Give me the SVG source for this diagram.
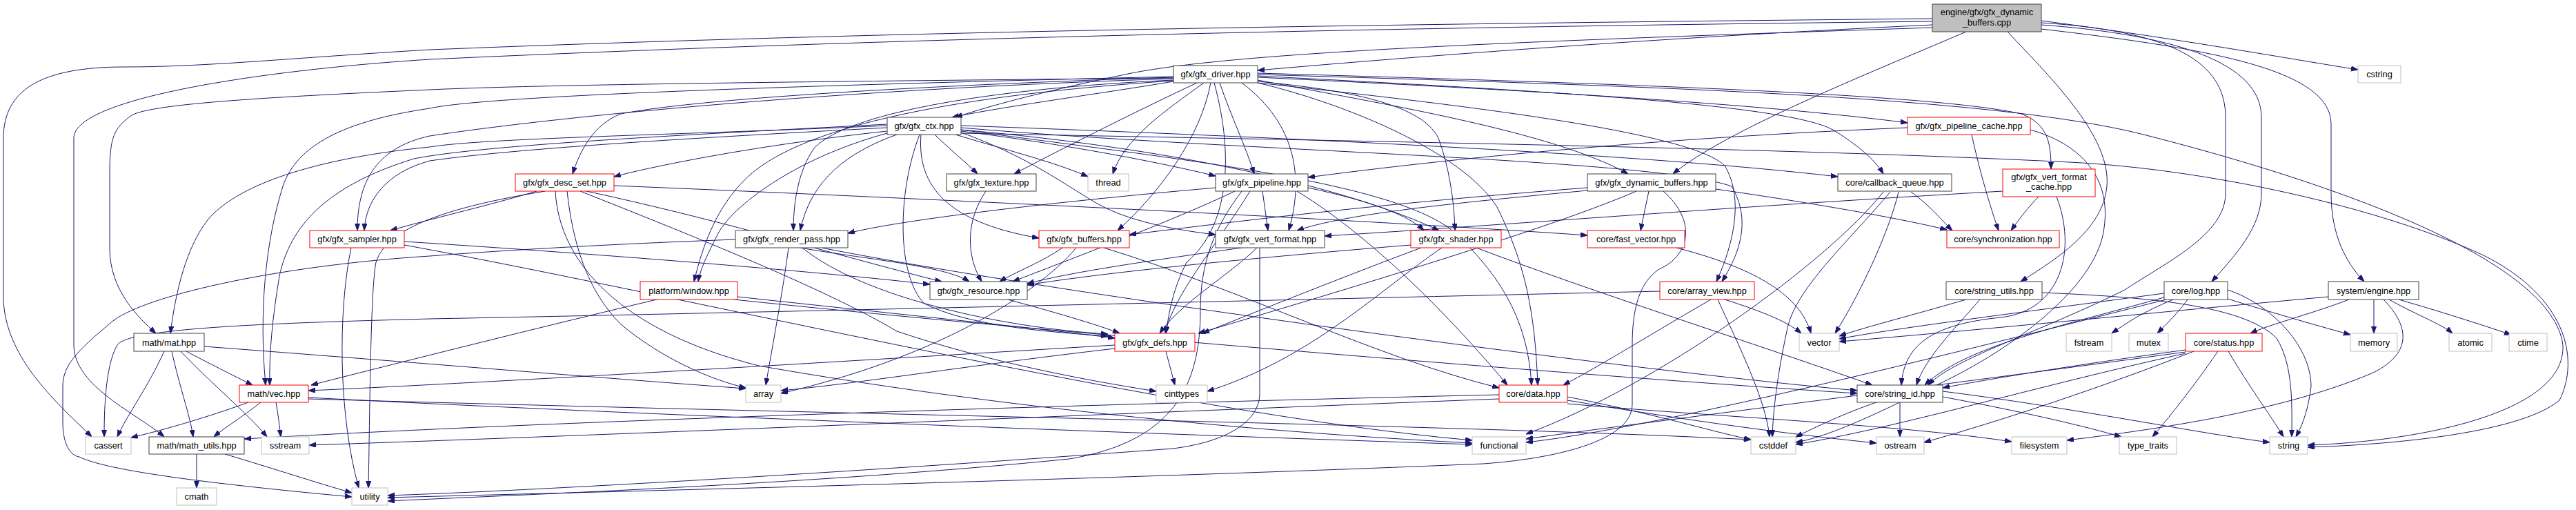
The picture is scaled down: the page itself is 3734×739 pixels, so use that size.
<svg xmlns="http://www.w3.org/2000/svg" width="3734" height="739" viewBox="0 0 3734 739">
<style>
.e path{fill:none;stroke:#191970;stroke-width:1;marker-end:url(#ah)}
.n rect{fill:#fff;stroke:#404040;stroke-width:1}
.r rect{fill:#fff;stroke:#ff0000;stroke-width:1}
.g rect{fill:#fff;stroke:#bfbfbf;stroke-width:1}
.rt rect{fill:#bfbfbf;stroke:#404040;stroke-width:1}
text{font-family:"Liberation Sans",Arial,sans-serif;font-size:12.8px;text-anchor:middle;fill:#000}
</style>
<defs>
<marker id="ah" markerWidth="10" markerHeight="8" refX="10" refY="3.5" orient="auto" markerUnits="userSpaceOnUse"><path d="M0,0 L10,3.5 L0,7 z" fill="#191970" stroke="#191970"/></marker>
</defs>
<rect width="3734" height="739" fill="#fff"/>
<g id="edges" class="e">
<path d="M2801,36 C2400,55 2050,82 1823,102"/>
<path d="M2801,40 C2200,60 1800,75 1640,106 C1500,135 1430,155 1385,170"/>
<path d="M2850,46 C2700,110 2500,190 2425,252"/>
<path d="M2959,30 C3150,55 3300,82 3418,101"/>
<path d="M2959,36 C3150,50 3278,90 3278,170 L3278,280 C3278,330 3240,370 3206,408"/>
<path d="M2959,42 C3200,70 3379,100 3379,180 L3379,280 C3379,340 3400,380 3427,408"/>
<path d="M2910,46 C2980,120 3060,200 3054,270 C3048,330 2990,370 2929,408"/>
<path d="M2959,33 C3150,45 3226,90 3226,170 L3226,280 C3226,340 3140,380 3080,420 C2960,480 2830,520 2795,558"/>
<path d="M2801,27 C2000,35 1300,45 623,72 C420,84 300,97 180,97 C60,97 5,130 5,200 L5,430 C5,520 90,590 133,633"/>
<path d="M2801,31 C2000,40 1300,55 623,86 C400,100 107,140 107,200 L107,500 C107,560 200,600 238,633"/>
<path d="M1701,118 C1600,135 1450,155 1380,170"/>
<path d="M1735,120 C1650,160 1550,210 1470,252"/>
<path d="M1745,120 C1690,160 1630,200 1613,252"/>
<path d="M1768,120 C1785,170 1805,210 1818,252"/>
<path d="M1823,116 C2000,150 2250,190 2360,252"/>
<path d="M1823,112 C2200,130 2550,150 2765,178"/>
<path d="M1823,110 C2200,130 2600,150 2660,190 C2700,215 2720,235 2730,252"/>
<path d="M1823,106 C2300,120 2800,135 2930,165 C2970,180 2973,210 2973,245"/>
<path d="M1701,112 C1300,125 1000,145 900,165 C860,180 840,220 830,252"/>
<path d="M1701,114 C1200,130 800,170 623,197 C540,215 518,270 518,334"/>
<path d="M1701,116 C1400,130 1220,170 1180,215 C1155,250 1150,300 1150,334"/>
<path d="M1755,120 C1740,200 1680,280 1620,334"/>
<path d="M1800,120 C1880,180 1890,260 1868,334"/>
<path d="M1823,118 C1950,130 2060,150 2085,200 C2100,240 2108,290 2109,334"/>
<path d="M1701,117 C1350,140 1150,190 1080,260 C1040,300 1020,350 1006,408"/>
<path d="M1823,120 C2100,150 2450,190 2500,240 C2530,290 2510,360 2488,408"/>
<path d="M1701,113 C1200,118 800,122 623,130 C400,140 220,150 191,167 C165,185 159,200 159,250 L159,360 C159,420 200,460 226,483"/>
<path d="M1760,120 C1790,230 1780,330 1720,380 C1700,420 1695,450 1690,483"/>
<path d="M1701,111 C1100,125 700,140 623,157 C500,175 430,210 410,270 C385,350 375,450 385,558"/>
<path d="M1823,120 C1950,150 2120,220 2170,300 C2210,380 2225,450 2229,558"/>
<path d="M1823,108 C2400,125 2900,140 3115,197 C3400,270 3700,380 3715,500 C3720,600 3500,640 3345,645"/>
<path d="M1355,195 C1375,215 1400,235 1417,252"/>
<path d="M1385,195 C1450,215 1530,235 1577,256"/>
<path d="M1393,190 C1550,210 1680,235 1762,255"/>
<path d="M1393,182 C1900,200 2400,225 2664,256"/>
<path d="M1286,190 C1100,210 950,240 890,256"/>
<path d="M1286,185 C1000,200 750,215 623,233 C560,250 530,290 528,334"/>
<path d="M1300,195 C1230,220 1175,260 1160,334"/>
<path d="M1335,195 C1330,260 1360,320 1506,345"/>
<path d="M1393,192 C1500,230 1560,280 1600,300 C1650,325 1720,335 1762,340"/>
<path d="M1393,188 C1700,215 1950,270 2086,334"/>
<path d="M1286,193 C1150,230 1060,300 1040,340 C1025,370 1015,390 1012,408"/>
<path d="M1393,185 C1800,220 2400,230 2510,270 C2540,320 2520,370 2496,408"/>
<path d="M1286,182 C1000,195 700,200 623,213 C450,230 340,270 300,320 C270,360 255,420 247,483"/>
<path d="M1333,195 C1300,280 1300,400 1340,440 C1400,470 1500,480 1606,487"/>
<path d="M1286,180 C1000,195 700,210 600,230 C470,270 420,330 405,400 C395,460 390,510 391,558"/>
<path d="M1393,188 C1700,230 2000,260 2100,330 C2180,400 2215,470 2220,558"/>
<path d="M1393,193 C2000,205 2600,215 3000,235 C3200,245 3450,300 3600,370 C3720,430 3740,520 3710,580 C3650,630 3450,645 3345,648"/>
<path d="M2765,185 C2400,200 2100,230 1896,257"/>
<path d="M2858,195 C2870,250 2885,300 2897,334"/>
<path d="M2943,188 C3020,210 3060,260 3050,330 C3040,420 2900,520 2780,570 C2700,610 2640,635 2603,641"/>
<path d="M778,277 C700,300 620,318 566,334"/>
<path d="M890,269 C1400,290 2000,320 2301,341"/>
<path d="M850,277 C1050,320 1250,380 1365,408"/>
<path d="M822,277 C830,350 850,420 900,470 C960,520 1030,550 1081,562"/>
<path d="M790,277 C650,300 560,330 545,380 C537,420 536,600 534,707"/>
<path d="M805,277 C810,380 900,480 1100,530 C1500,600 1900,630 2134,642"/>
<path d="M841,277 C1000,340 1200,420 1300,480 C1450,530 1600,555 1676,567"/>
<path d="M1429,277 C1400,320 1400,370 1423,408"/>
<path d="M1762,272 C1500,295 1300,320 1229,338"/>
<path d="M1830,277 L1838,334"/>
<path d="M1896,272 C1980,290 2040,310 2064,334"/>
<path d="M1790,277 C1700,320 1540,380 1468,408"/>
<path d="M1812,277 C1760,360 1700,430 1689,483"/>
<path d="M1880,277 C2000,350 2120,480 2185,558"/>
<path d="M1800,277 C1760,330 1740,380 1740,450 C1740,560 1700,640 1550,665 C1200,700 800,715 562,726"/>
<path d="M2770,278 C2800,300 2815,320 2830,334"/>
<path d="M2752,278 C2740,330 2700,420 2660,483"/>
<path d="M2730,278 C2650,380 2400,560 2212,629"/>
<path d="M2740,278 C2680,350 2600,420 2590,480 C2575,550 2570,600 2569,633"/>
<path d="M2301,272 C2000,295 1800,320 1637,340"/>
<path d="M2301,276 C2100,295 1950,310 1880,334"/>
<path d="M2390,277 L2378,334"/>
<path d="M2372,277 C2250,330 1950,420 1737,483"/>
<path d="M2487,274 C2600,290 2750,315 2822,333"/>
<path d="M2411,277 C2460,320 2450,370 2405,390 C2375,410 2366,450 2366,500 L2366,586 C2366,640 2250,665 2150,672 C1600,695 900,712 562,721"/>
<path d="M2903,277 C2500,300 2200,325 1920,342"/>
<path d="M2955,285 C2940,300 2925,320 2915,334"/>
<path d="M2981,285 C3010,360 2990,450 2900,460 C2800,470 2760,500 2756,558"/>
<path d="M586,350 C900,370 1200,395 1348,412"/>
<path d="M509,359 C490,450 490,600 520,707"/>
<path d="M586,355 C1000,430 1700,600 2134,638"/>
<path d="M1160,359 C1250,375 1370,385 1405,408"/>
<path d="M1143,359 C1135,420 1120,500 1110,558"/>
<path d="M1163,359 C1250,430 1450,475 1606,484"/>
<path d="M1191,359 C1500,420 2300,530 2692,566"/>
<path d="M1066,347 C850,355 700,365 623,371 C400,385 200,430 159,469 C110,510 91,530 91,560 L91,612 C91,640 100,660 115,662 C160,685 350,705 510,720"/>
<path d="M1540,359 C1510,380 1470,395 1449,408"/>
<path d="M1560,359 C1500,430 1350,520 1132,570"/>
<path d="M1600,359 C1800,420 2000,520 2173,562"/>
<path d="M1800,359 C1650,380 1550,395 1489,411"/>
<path d="M1822,359 C1780,400 1710,440 1681,483"/>
<path d="M1826,359 L1826,570 C1826,610 1780,640 1700,650 C1300,680 800,710 562,718"/>
<path d="M2045,355 C1800,375 1600,395 1489,413"/>
<path d="M2060,359 C1950,400 1800,460 1743,483"/>
<path d="M2140,359 C2300,420 2550,500 2714,558"/>
<path d="M2090,359 C2000,420 1900,520 1750,567"/>
<path d="M2430,359 C2550,390 2610,430 2625,483"/>
<path d="M952,434 C800,470 600,520 451,558"/>
<path d="M1069,430 C1300,455 1500,475 1616,490"/>
<path d="M1064,434 C1500,480 2300,545 2692,570"/>
<path d="M1461,434 C1520,450 1590,470 1623,483"/>
<path d="M2500,434 C2550,450 2590,465 2611,483"/>
<path d="M2480,434 C2400,480 2320,530 2266,558"/>
<path d="M2406,422 C1800,436 1000,455 623,462 C400,468 185,475 170,500 C152,530 151,600 151,633"/>
<path d="M2490,434 C2520,500 2560,580 2565,633"/>
<path d="M2850,434 C2760,460 2700,475 2666,487"/>
<path d="M2960,424 C3100,430 3250,440 3300,490 C3325,530 3322,590 3322,633"/>
<path d="M2870,434 C2830,480 2790,520 2778,558"/>
<path d="M3137,425 C2950,450 2750,475 2666,491"/>
<path d="M3150,434 C3100,455 3080,470 3061,483"/>
<path d="M3171,434 C3160,450 3140,470 3127,483"/>
<path d="M3226,432 C3300,455 3370,475 3407,485"/>
<path d="M3229,420 C3290,440 3350,500 3350,560 C3345,600 3335,620 3328,633"/>
<path d="M3140,430 C3000,470 2850,500 2790,558"/>
<path d="M3140,434 C2800,520 2400,620 2212,641"/>
<path d="M3405,434 C3350,455 3290,470 3262,483"/>
<path d="M3441,434 L3441,483"/>
<path d="M3463,434 C3500,455 3540,470 3555,483"/>
<path d="M3477,434 C3550,455 3610,475 3640,485"/>
<path d="M3375,430 C3100,455 2850,480 2666,495"/>
<path d="M3455,434 C3490,470 3500,510 3440,540 C3300,600 3100,625 2996,638"/>
<path d="M270,509 C300,525 340,545 366,558"/>
<path d="M238,509 C215,560 185,600 170,633"/>
<path d="M249,509 C260,560 275,600 280,633"/>
<path d="M262,509 C300,550 360,600 387,633"/>
<path d="M296,502 C600,525 900,550 1081,563"/>
<path d="M1690,509 L1703,558"/>
<path d="M1616,500 C1200,525 700,555 447,566"/>
<path d="M1616,505 C1400,530 1250,555 1132,566"/>
<path d="M360,583 C300,605 230,625 190,634"/>
<path d="M378,583 C350,605 325,620 310,633"/>
<path d="M400,583 C403,600 405,615 407,633"/>
<path d="M447,576 C900,600 1700,630 2134,644"/>
<path d="M447,578 C1200,600 2100,615 2538,637"/>
<path d="M2173,572 C1600,585 800,610 354,636"/>
<path d="M2173,578 C1600,600 900,630 448,645"/>
<path d="M2272,575 C2400,600 2480,625 2538,637"/>
<path d="M2272,580 C2450,610 2600,630 2720,642"/>
<path d="M2272,585 C2500,605 2750,615 2916,640"/>
<path d="M2754,583 L2754,633"/>
<path d="M2816,575 C2950,600 3030,620 3075,633"/>
<path d="M2816,567 C3000,590 3200,630 3290,641"/>
<path d="M2720,583 C2670,600 2630,620 2603,633"/>
<path d="M3168,507 C3000,530 2880,550 2816,562"/>
<path d="M3230,509 C3260,560 3290,600 3310,633"/>
<path d="M3215,509 C3180,560 3140,610 3120,633"/>
<path d="M3180,509 C3050,560 2900,610 2789,641"/>
<path d="M3168,512 C2950,560 2750,620 2603,644"/>
<path d="M3168,510 C2800,560 2400,610 2212,636"/>
<path d="M285,658 L285,707"/>
<path d="M326,658 C400,680 460,700 510,714"/>
</g>
<g id="root" class="rt"><rect x="2801" y="6" width="158" height="40"/><text x="2880" y="21.5">engine/gfx/gfx_dynamic</text><text x="2880" y="36.5">_buffers.cpp</text></g>
<g id="gfx_driver" class="n"><rect x="1701" y="95" width="122" height="25"/><text x="1762" y="112">gfx/gfx_driver.hpp</text></g>
<g id="cstring" class="g"><rect x="3418" y="95" width="62" height="25"/><text x="3449" y="112">cstring</text></g>
<g id="gfx_ctx" class="n"><rect x="1286" y="170" width="107" height="25"/><text x="1339.5" y="187">gfx/gfx_ctx.hpp</text></g>
<g id="gfx_pipeline_cache" class="r"><rect x="2765" y="170" width="178" height="25"/><text x="2854" y="187">gfx/gfx_pipeline_cache.hpp</text></g>
<g id="gfx_desc_set" class="r"><rect x="747" y="252" width="143" height="25"/><text x="818.5" y="269">gfx/gfx_desc_set.hpp</text></g>
<g id="gfx_texture" class="n"><rect x="1372" y="252" width="130" height="25"/><text x="1437" y="269">gfx/gfx_texture.hpp</text></g>
<g id="thread" class="g"><rect x="1577" y="252" width="59" height="25"/><text x="1606.5" y="269">thread</text></g>
<g id="gfx_pipeline" class="n"><rect x="1762" y="252" width="134" height="25"/><text x="1829" y="269">gfx/gfx_pipeline.hpp</text></g>
<g id="callback_queue" class="n"><rect x="2664" y="252" width="165" height="25"/><text x="2746.5" y="269">core/callback_queue.hpp</text></g>
<g id="gfx_dynamic_buffers" class="n"><rect x="2301" y="252" width="186" height="25"/><text x="2394" y="269">gfx/gfx_dynamic_buffers.hpp</text></g>
<g id="gfx_vert_format_cache" class="r"><rect x="2903" y="245" width="134" height="40"/><text x="2970" y="261">gfx/gfx_vert_format</text><text x="2970" y="275">_cache.hpp</text></g>
<g id="gfx_sampler" class="r"><rect x="449" y="334" width="137" height="25"/><text x="517.5" y="351">gfx/gfx_sampler.hpp</text></g>
<g id="gfx_render_pass" class="n"><rect x="1066" y="334" width="163" height="25"/><text x="1147.5" y="351">gfx/gfx_render_pass.hpp</text></g>
<g id="gfx_buffers" class="r"><rect x="1506" y="334" width="131" height="25"/><text x="1571.5" y="351">gfx/gfx_buffers.hpp</text></g>
<g id="gfx_vert_format" class="n"><rect x="1762" y="334" width="158" height="25"/><text x="1841" y="351">gfx/gfx_vert_format.hpp</text></g>
<g id="gfx_shader" class="r"><rect x="2045" y="334" width="131" height="25"/><text x="2110.5" y="351">gfx/gfx_shader.hpp</text></g>
<g id="fast_vector" class="r"><rect x="2301" y="334" width="141" height="25"/><text x="2371.5" y="351">core/fast_vector.hpp</text></g>
<g id="synchronization" class="r"><rect x="2822" y="334" width="163" height="25"/><text x="2903.5" y="351">core/synchronization.hpp</text></g>
<g id="window" class="r"><rect x="928" y="408" width="141" height="26"/><text x="998.5" y="426">platform/window.hpp</text></g>
<g id="gfx_resource" class="n"><rect x="1348" y="408" width="141" height="26"/><text x="1418.5" y="426">gfx/gfx_resource.hpp</text></g>
<g id="array_view" class="r"><rect x="2406" y="408" width="137" height="26"/><text x="2474.5" y="426">core/array_view.hpp</text></g>
<g id="string_utils" class="n"><rect x="2821" y="408" width="139" height="26"/><text x="2890.5" y="426">core/string_utils.hpp</text></g>
<g id="log" class="n"><rect x="3137" y="408" width="92" height="26"/><text x="3183" y="426">core/log.hpp</text></g>
<g id="engine" class="n"><rect x="3375" y="408" width="131" height="26"/><text x="3440.5" y="426">system/engine.hpp</text></g>
<g id="mat" class="n"><rect x="194" y="483" width="102" height="26"/><text x="245" y="501">math/mat.hpp</text></g>
<g id="gfx_defs" class="r"><rect x="1616" y="483" width="116" height="26"/><text x="1674" y="501">gfx/gfx_defs.hpp</text></g>
<g id="vector" class="g"><rect x="2608" y="483" width="58" height="26"/><text x="2637" y="501">vector</text></g>
<g id="fstream" class="g"><rect x="2995" y="483" width="66" height="26"/><text x="3028" y="501">fstream</text></g>
<g id="mutex" class="g"><rect x="3086" y="483" width="57" height="26"/><text x="3114.5" y="501">mutex</text></g>
<g id="status" class="r"><rect x="3168" y="483" width="111" height="26"/><text x="3223.5" y="501">core/status.hpp</text></g>
<g id="memory" class="g"><rect x="3407" y="483" width="68" height="26"/><text x="3441" y="501">memory</text></g>
<g id="atomic" class="g"><rect x="3550" y="483" width="62" height="26"/><text x="3581" y="501">atomic</text></g>
<g id="ctime" class="g"><rect x="3637" y="483" width="55" height="26"/><text x="3664.5" y="501">ctime</text></g>
<g id="vec" class="r"><rect x="347" y="558" width="100" height="25"/><text x="397" y="575">math/vec.hpp</text></g>
<g id="array" class="g"><rect x="1081" y="558" width="51" height="25"/><text x="1106.5" y="575">array</text></g>
<g id="cinttypes" class="g"><rect x="1676" y="558" width="74" height="25"/><text x="1713" y="575">cinttypes</text></g>
<g id="data" class="r"><rect x="2173" y="558" width="99" height="25"/><text x="2222.5" y="575">core/data.hpp</text></g>
<g id="string_id" class="n"><rect x="2692" y="558" width="124" height="25"/><text x="2754" y="575">core/string_id.hpp</text></g>
<g id="cassert" class="g"><rect x="124" y="633" width="66" height="25"/><text x="157" y="650">cassert</text></g>
<g id="math_utils" class="n"><rect x="216" y="633" width="138" height="25"/><text x="285" y="650">math/math_utils.hpp</text></g>
<g id="sstream" class="g"><rect x="379" y="633" width="69" height="25"/><text x="413.5" y="650">sstream</text></g>
<g id="functional" class="g"><rect x="2134" y="633" width="78" height="25"/><text x="2173" y="650">functional</text></g>
<g id="cstddef" class="g"><rect x="2538" y="633" width="65" height="25"/><text x="2570.5" y="650">cstddef</text></g>
<g id="ostream" class="g"><rect x="2720" y="633" width="69" height="25"/><text x="2754.5" y="650">ostream</text></g>
<g id="filesystem" class="g"><rect x="2916" y="633" width="80" height="25"/><text x="2956" y="650">filesystem</text></g>
<g id="type_traits" class="g"><rect x="3072" y="633" width="83" height="25"/><text x="3113.5" y="650">type_traits</text></g>
<g id="string" class="g"><rect x="3290" y="633" width="55" height="25"/><text x="3317.5" y="650">string</text></g>
<g id="cmath" class="g"><rect x="256" y="707" width="58" height="25"/><text x="285" y="724">cmath</text></g>
<g id="utility" class="g"><rect x="510" y="707" width="52" height="25"/><text x="536" y="724">utility</text></g>
</svg>
